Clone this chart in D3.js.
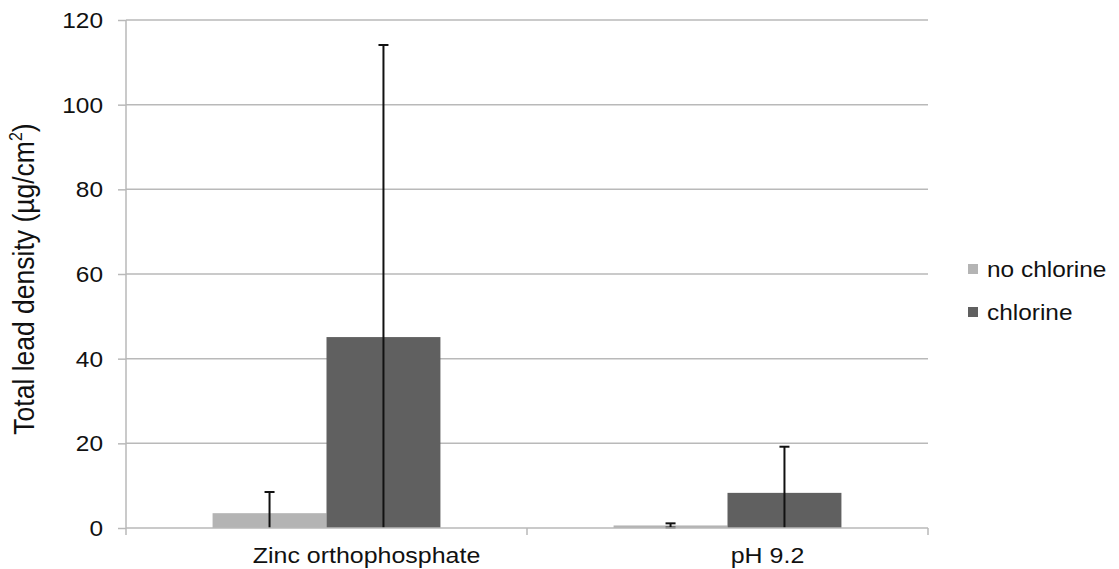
<!DOCTYPE html>
<html>
<head>
<meta charset="utf-8">
<script src="https://cdn.jsdelivr.net/npm/d3@7"></script>
<style>
  html, body { margin: 0; padding: 0; background: #fff; }
  svg { display: block; font-family: "Liberation Sans", Arial, sans-serif; }
</style>
</head>
<body>
<svg id="chart" width="1119" height="569"></svg>
<script>
// Lead density by treatment, with and without chlorine
const categories = ["Zinc orthophosphate", "pH 9.2"];
const seriesNames = ["no chlorine", "chlorine"];
const noChlorine = [3.5, 0.6];
const chlorine = [45.1, 8.3];
const noChlorineErr = [5.0, 0.5];
const chlorineErr = [69.0, 10.9];
const yTicks = [0, 20, 40, 60, 80, 100, 120];

const colors = { "no chlorine": "#b4b4b4", "chlorine": "#606060" };
const stretch = 1.11;   // horizontal widening of the labels

const svg = d3.select("#chart");
const plot = { left: 126, right: 928, top: 20, bottom: 528 };

const y = d3.scaleLinear().domain([0, 120]).range([plot.bottom, plot.top]);
const x = d3.scaleBand().domain(categories).range([plot.left, plot.right])
  .paddingInner(0).paddingOuter(0);
const xs = d3.scaleBand().domain(seriesNames).range([0, x.bandwidth()])
  .paddingInner(0).paddingOuter(0.76);

const rows = categories.map((c, i) => ({
  category: c,
  values: [
    { series: "no chlorine", value: noChlorine[i], err: noChlorineErr[i] },
    { series: "chlorine", value: chlorine[i], err: chlorineErr[i] }
  ]
}));

// horizontal gridlines
svg.append("g").selectAll("line").data(yTicks.filter(t => t > 0)).join("line")
  .attr("x1", plot.left).attr("x2", plot.right)
  .attr("y1", d => y(d)).attr("y2", d => y(d))
  .attr("stroke", "#b9b9b9").attr("stroke-width", 1.5);

// y axis
const yAxis = svg.append("g").attr("transform", `translate(${plot.left},0)`)
  .call(d3.axisLeft(y).tickValues(yTicks).tickSize(8).tickPadding(0));
yAxis.select(".domain").attr("stroke", "#b9b9b9").attr("stroke-width", 1.5)
  .attr("d", `M0,${plot.top}V${plot.bottom}`);
yAxis.selectAll(".tick line").attr("stroke", "#b9b9b9").attr("stroke-width", 1.5);
yAxis.selectAll(".tick text")
  .attr("x", null).attr("dy", null)
  .attr("transform", `translate(-23,7.5) scale(${stretch},1)`)
  .attr("text-anchor", "end")
  .attr("font-size", 22).attr("fill", "#111")
  .attr("font-family", "Liberation Sans, Arial, sans-serif");

// bars
const groups = svg.append("g").selectAll("g").data(rows).join("g")
  .attr("transform", d => `translate(${x(d.category)},0)`);

groups.selectAll("rect").data(d => d.values).join("rect")
  .attr("x", d => xs(d.series))
  .attr("width", xs.bandwidth())
  .attr("y", d => y(d.value))
  .attr("height", d => y(0) - y(d.value))
  .attr("fill", d => colors[d.series]);

// x axis
svg.append("line")
  .attr("x1", plot.left).attr("x2", plot.right)
  .attr("y1", y(0)).attr("y2", y(0))
  .attr("stroke", "#b9b9b9").attr("stroke-width", 1.5);
const bounds = categories.map(c => x(c)).concat([plot.right]);
svg.append("g").selectAll("line").data(bounds).join("line")
  .attr("x1", d => d).attr("x2", d => d)
  .attr("y1", y(0)).attr("y2", y(0) + 7)
  .attr("stroke", "#b9b9b9").attr("stroke-width", 1.5);

// error bars (both directions, clipped at the axis)
const cx = d => xs(d.series) + xs.bandwidth() / 2;
const eb = groups.selectAll("g.err").data(d => d.values).join("g").attr("class", "err");
eb.append("line")
  .attr("x1", cx).attr("x2", cx)
  .attr("y1", d => y(Math.max(0, d.value - d.err)))
  .attr("y2", d => y(d.value + d.err))
  .attr("stroke", "#111").attr("stroke-width", 2);
eb.append("line")
  .attr("x1", d => cx(d) - 5).attr("x2", d => cx(d) + 5)
  .attr("y1", d => y(d.value + d.err))
  .attr("y2", d => y(d.value + d.err))
  .attr("stroke", "#111").attr("stroke-width", 2);
eb.filter(d => d.value - d.err >= 0).append("line")
  .attr("x1", d => cx(d) - 5).attr("x2", d => cx(d) + 5)
  .attr("y1", d => y(d.value - d.err))
  .attr("y2", d => y(d.value - d.err))
  .attr("stroke", "#111").attr("stroke-width", 2);

// category labels
svg.append("g").selectAll("text").data(categories).join("text")
  .attr("transform", d => `translate(${x(d) + x.bandwidth() / 2 + 40},563) scale(${stretch},1)`)
  .attr("text-anchor", "middle")
  .attr("font-size", 22.5).attr("fill", "#111")
  .text(d => d);

// y axis title
const title = svg.append("text")
  .attr("transform", `translate(34,279) rotate(-90) scale(1,${stretch})`)
  .attr("text-anchor", "middle")
  .attr("font-size", 26.5).attr("fill", "#111");
title.append("tspan").text("Total lead density (µg/cm");
title.append("tspan").attr("font-size", 16).attr("dy", -11).text("2");
title.append("tspan").attr("dy", 11).text(")");

// legend
const legend = svg.append("g").selectAll("g").data(seriesNames).join("g")
  .attr("transform", (d, i) => `translate(968,${264 + i * 43})`);
legend.append("rect").attr("width", 10).attr("height", 10)
  .attr("fill", d => colors[d]);
legend.append("text")
  .attr("transform", `translate(19,13) scale(${stretch},1)`)
  .attr("font-size", 22).attr("fill", "#111")
  .text(d => d);
</script>
</body>
</html>
